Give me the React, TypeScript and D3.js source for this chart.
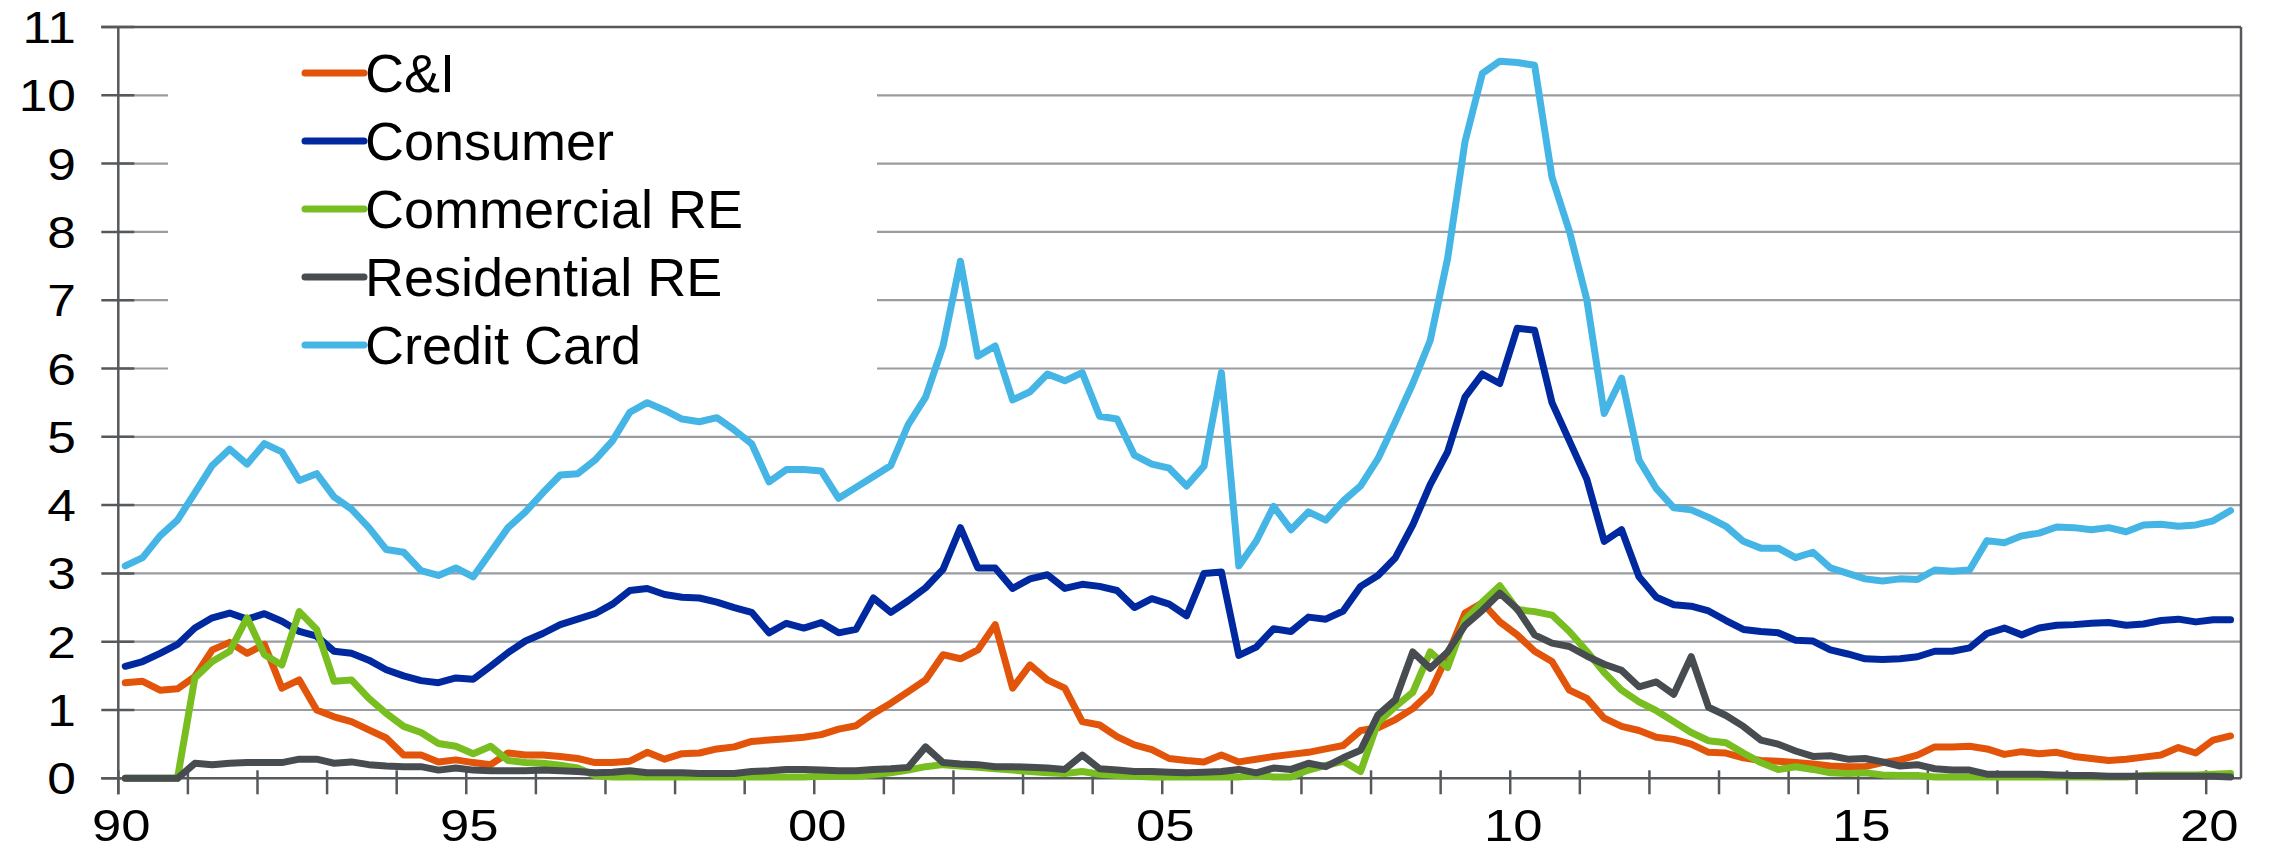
import React from "react";
import * as d3 from "d3";

const seriesNames = ["C&I", "Consumer", "Commercial RE", "Residential RE", "Credit Card"];
const seriesColors = ["#E2540A", "#0029A0", "#78BE20", "#474C50", "#45B5E6"];

// quarterly, 1990Q1 .. 2020Q2
const startYear = 1990;

const cni = [
  1.40, 1.42, 1.29, 1.31, 1.49, 1.88, 1.99, 1.83, 1.96, 1.32, 1.44, 1.00, 0.90, 0.83, 0.71, 0.59,
  0.34, 0.34, 0.24, 0.27, 0.23, 0.20, 0.37, 0.34, 0.34, 0.32, 0.29, 0.23, 0.23, 0.25, 0.38, 0.28,
  0.36, 0.37, 0.43, 0.46, 0.54, 0.56, 0.58, 0.60, 0.64, 0.72, 0.77, 0.95, 1.10, 1.27, 1.44, 1.81,
  1.75, 1.88, 2.25, 1.32, 1.66, 1.44, 1.32, 0.83, 0.78, 0.61, 0.49, 0.42, 0.29, 0.26, 0.24, 0.34,
  0.24, 0.28, 0.32, 0.35, 0.38, 0.43, 0.48, 0.70, 0.74, 0.86, 1.02, 1.26, 1.80, 2.42, 2.57, 2.29,
  2.10, 1.86, 1.71, 1.29, 1.17, 0.88, 0.76, 0.70, 0.60, 0.57, 0.50, 0.38, 0.37, 0.30, 0.26, 0.25,
  0.23, 0.21, 0.18, 0.17, 0.17, 0.23, 0.27, 0.34, 0.46, 0.46, 0.47, 0.43, 0.35, 0.39, 0.36, 0.38,
  0.32, 0.29, 0.26, 0.28, 0.31, 0.34, 0.45, 0.37, 0.56, 0.62,
];

const consumer = [
  1.64, 1.71, 1.83, 1.96, 2.20, 2.35, 2.42, 2.33, 2.41, 2.30, 2.15, 2.08, 1.86, 1.83, 1.73, 1.59,
  1.50, 1.43, 1.40, 1.47, 1.45, 1.64, 1.84, 2.01, 2.12, 2.25, 2.33, 2.41, 2.55, 2.75, 2.78, 2.69,
  2.65, 2.64, 2.58, 2.50, 2.43, 2.13, 2.27, 2.20, 2.28, 2.13, 2.18, 2.64, 2.43, 2.60, 2.79, 3.06,
  3.67, 3.08, 3.08, 2.78, 2.92, 2.98, 2.78, 2.84, 2.81, 2.75, 2.50, 2.63, 2.55, 2.38, 3.00, 3.02,
  1.80, 1.92, 2.19, 2.15, 2.36, 2.33, 2.45, 2.81, 2.97, 3.23, 3.71, 4.30, 4.78, 5.58, 5.92, 5.78,
  6.59, 6.56, 5.50, 4.94, 4.38, 3.47, 3.64, 2.95, 2.65, 2.54, 2.52, 2.45, 2.31, 2.18, 2.15, 2.13,
  2.02, 2.01, 1.88, 1.82, 1.75, 1.74, 1.75, 1.78, 1.86, 1.86, 1.91, 2.12, 2.20, 2.10, 2.20, 2.24,
  2.25, 2.27, 2.28, 2.24, 2.26, 2.31, 2.33, 2.29, 2.32, 2.32,
];

const commercialRE = [
  0.00, 0.00, 0.00, 0.00, 1.47, 1.71, 1.86, 2.35, 1.81, 1.66, 2.44, 2.18, 1.42, 1.44, 1.17, 0.95,
  0.76, 0.67, 0.51, 0.47, 0.36, 0.47, 0.26, 0.23, 0.22, 0.19, 0.15, 0.04, 0.02, 0.02, 0.02, 0.02,
  0.02, 0.02, 0.02, 0.02, 0.02, 0.02, 0.02, 0.02, 0.03, 0.03, 0.03, 0.05, 0.08, 0.12, 0.17, 0.20,
  0.18, 0.16, 0.14, 0.12, 0.10, 0.08, 0.07, 0.10, 0.06, 0.04, 0.03, 0.02, 0.02, 0.02, 0.02, 0.02,
  0.02, 0.04, 0.02, 0.02, 0.12, 0.19, 0.25, 0.10, 0.82, 1.05, 1.26, 1.85, 1.62, 2.32, 2.58, 2.82,
  2.47, 2.44, 2.39, 2.15, 1.86, 1.55, 1.29, 1.12, 0.99, 0.83, 0.67, 0.55, 0.52, 0.37, 0.23, 0.13,
  0.17, 0.13, 0.08, 0.07, 0.08, 0.05, 0.04, 0.04, 0.02, 0.02, 0.02, 0.02, 0.02, 0.02, 0.02, 0.02,
  0.02, 0.02, 0.02, 0.02, 0.04, 0.05, 0.05, 0.05, 0.06, 0.07,
];

const residentialRE = [
  0.00, 0.00, 0.00, 0.00, 0.22, 0.20, 0.22, 0.23, 0.23, 0.23, 0.28, 0.28, 0.22, 0.24, 0.20, 0.18,
  0.17, 0.17, 0.12, 0.15, 0.12, 0.11, 0.11, 0.11, 0.12, 0.11, 0.10, 0.08, 0.09, 0.11, 0.08, 0.08,
  0.08, 0.07, 0.07, 0.07, 0.10, 0.11, 0.13, 0.13, 0.12, 0.11, 0.11, 0.13, 0.14, 0.16, 0.46, 0.23,
  0.21, 0.20, 0.17, 0.17, 0.16, 0.15, 0.13, 0.34, 0.14, 0.12, 0.10, 0.10, 0.09, 0.08, 0.09, 0.10,
  0.13, 0.08, 0.15, 0.13, 0.22, 0.17, 0.30, 0.41, 0.93, 1.15, 1.85, 1.61, 1.85, 2.24, 2.46, 2.71,
  2.48, 2.10, 1.98, 1.93, 1.79, 1.67, 1.58, 1.34, 1.41, 1.23, 1.78, 1.04, 0.92, 0.76, 0.56, 0.50,
  0.40, 0.32, 0.33, 0.28, 0.29, 0.24, 0.18, 0.20, 0.14, 0.12, 0.12, 0.06, 0.06, 0.06, 0.06, 0.05,
  0.04, 0.04, 0.03, 0.03, 0.03, 0.03, 0.03, 0.03, 0.03, 0.02,
];

const creditCard = [
  3.11, 3.23, 3.55, 3.78, 4.18, 4.58, 4.82, 4.60, 4.90, 4.78, 4.36, 4.46, 4.12, 3.94, 3.67, 3.35,
  3.31, 3.04, 2.97, 3.08, 2.95, 3.31, 3.67, 3.90, 4.18, 4.44, 4.46, 4.66, 4.94, 5.36, 5.50, 5.39,
  5.26, 5.22, 5.28, 5.10, 4.90, 4.34, 4.52, 4.52, 4.50, 4.10, 4.26, 4.42, 4.58, 5.18, 5.58, 6.33,
  7.57, 6.18, 6.33, 5.54, 5.66, 5.92, 5.82, 5.94, 5.30, 5.26, 4.73, 4.60, 4.54, 4.28, 4.57, 5.94,
  3.11, 3.47, 3.98, 3.64, 3.90, 3.78, 4.06, 4.28, 4.68, 5.22, 5.78, 6.41, 7.61, 9.32, 10.32, 10.50,
  10.48, 10.44, 8.80, 8.01, 7.01, 5.34, 5.86, 4.66, 4.24, 3.96, 3.93, 3.82, 3.69, 3.47, 3.37, 3.37,
  3.23, 3.31, 3.08, 3.00, 2.92, 2.89, 2.92, 2.91, 3.05, 3.03, 3.05, 3.48, 3.45, 3.55, 3.59, 3.68,
  3.67, 3.64, 3.67, 3.61, 3.71, 3.72, 3.69, 3.71, 3.77, 3.92,
];

const yTicks = [0, 1, 2, 3, 4, 5, 6, 7, 8, 9, 10, 11];
const xTickYears = d3.range(1990, 2021);
const xLabelYears = [1990, 1995, 2000, 2005, 2010, 2015, 2020];
const xLabels = ["90", "95", "00", "05", "10", "15", "20"];

const allSeries = [cni, consumer, commercialRE, residentialRE, creditCard];

const W = 2269;
const H = 850;
const left = 118.3;
const right = 2241;
const top = 27;
const bottom = 778.3;

export default function App() {
  const x = d3.scaleLinear().domain([1990, 2020.5]).range([left, right]);
  const y = d3.scaleLinear().domain([0, 11]).range([bottom, top]);
  const quarterPos = (i: number) => startYear + 0.1 + i * 0.25;

  const line = d3
    .line<number>()
    .x((_, i) => x(quarterPos(i)))
    .y((d) => y(d));

  const font = "'Liberation Sans', Arial, sans-serif";
  const axisColor = "#55595C";
  const gridColor = "#999CA0";
  const stretch = 1.17;

  const legendRowY = (k: number) => 73 + k * 68;

  return (
    <div style={{ position: "absolute", left: 0, top: 0, width: W, height: H, background: "#fff" }}>
      <svg width={W} height={H} style={{ display: "block" }}>
        <rect x={0} y={0} width={W} height={H} fill="#fff" />
        {/* gridlines */}
        {yTicks.slice(1, -1).map((t) => (
          <line key={"g" + t} x1={left} x2={right} y1={y(t)} y2={y(t)} stroke={gridColor} strokeWidth={2.2} />
        ))}
        {/* top & right border */}
        <line x1={left - 17} x2={right} y1={y(11)} y2={y(11)} stroke={axisColor} strokeWidth={2.5} />
        <line x1={right} x2={right} y1={y(11)} y2={bottom} stroke={axisColor} strokeWidth={2.5} />
        {/* y ticks */}
        {yTicks.map((t) => (
          <line key={"yt" + t} x1={left - 17} x2={left + 16} y1={y(t)} y2={y(t)} stroke={axisColor} strokeWidth={2.5} />
        ))}
        {/* x ticks */}
        {xTickYears.map((yr) => (
          <line key={"xt" + yr} x1={x(yr)} x2={x(yr)} y1={bottom - 8} y2={bottom + 16} stroke={axisColor} strokeWidth={2.5} />
        ))}
        {/* axes */}
        <line x1={left} x2={left} y1={y(11)} y2={bottom + 16} stroke={axisColor} strokeWidth={2.5} />
        <line x1={left - 17} x2={right} y1={bottom} y2={bottom} stroke={axisColor} strokeWidth={2.5} />
        {/* y labels */}
        {yTicks.map((t) => (
          <text
            key={"yl" + t}
            transform={`translate(76,${y(t) + 16}) scale(${stretch},1)`}
            textAnchor="end"
            fontFamily={font}
            fontSize={44}
            fill="#000"
          >
            {t}
          </text>
        ))}
        {/* x labels */}
        {xLabelYears.map((yr, k) => (
          <text
            key={"xl" + yr}
            transform={`translate(${x(yr) + 3},841) scale(${stretch},1)`}
            textAnchor="middle"
            fontFamily={font}
            fontSize={45}
            fill="#000"
          >
            {xLabels[k]}
          </text>
        ))}
        {/* series */}
        {allSeries.map((s, k) => (
          <path
            key={"s" + k}
            d={line(s) || ""}
            fill="none"
            stroke={seriesColors[k]}
            strokeWidth={7}
            strokeLinejoin="round"
            strokeLinecap="round"
          />
        ))}
        {/* legend */}
        <rect x={168} y={40} width={709} height={350} fill="#fff" />
        {seriesNames.map((n, k) => (
          <g key={"lg" + k}>
            <line
              x1={305}
              x2={364}
              y1={legendRowY(k)}
              y2={legendRowY(k)}
              stroke={seriesColors[k]}
              strokeWidth={7}
              strokeLinecap="round"
            />
            <text x={365} y={legendRowY(k) + 19} fontFamily={font} fontSize={54} fill="#000">
              {n}
            </text>
          </g>
        ))}
      </svg>
    </div>
  );
}
